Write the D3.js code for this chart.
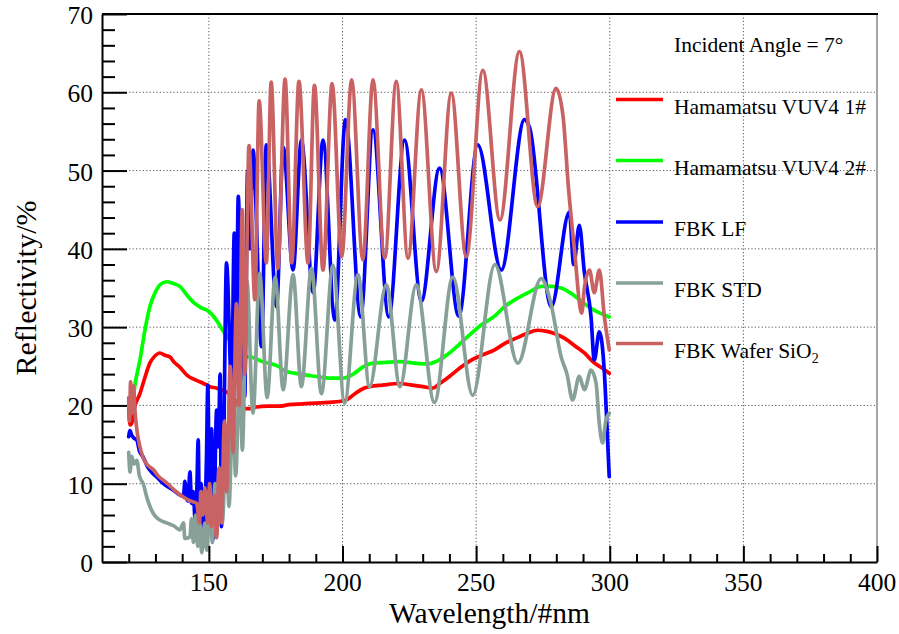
<!DOCTYPE html>
<html>
<head>
<meta charset="utf-8">
<script src="https://cdn.jsdelivr.net/npm/d3@7"></script>
<style>
  html, body { margin: 0; padding: 0; background: #fff; }
  svg text { font-family: "Liberation Serif", "Times New Roman", serif; fill: #000; }
</style>
</head>
<body>
<svg id="chart" width="899" height="634"></svg>
<script>
// ---------- data (wavelength nm, reflectivity %) ----------
const hamamatsu1 = [[120,19.5],[120.5,17.5],[121.1,17.7],[122,19.5],[124.2,21.5],[126,23.5],[127.9,25.4],[129.5,26.2],[131.7,26.7],[133.5,26.4],[135.4,26.2],[137,25.5],[139.1,24.9],[142,23.8],[145.4,23.2],[148,22.8],[150.4,22.4],[153,22.2],[156,21.8],[159.1,21.1],[160.5,20.2],[162,19.4],[163,19.6],[165.3,19.6],[167.8,19.8],[172,19.9],[176.5,19.9],[180,20.1],[185,20.2],[190,20.3],[195,20.4],[198.9,20.5],[202,20.8],[205,21.6],[208,22.2],[210.1,22.4],[215,22.6],[221.4,22.8],[226,22.6],[230.1,22.4],[233.8,22.2],[236,22.7],[240,23.7],[244,24.8],[248.2,25.8],[252,26.4],[256.9,27.1],[260.6,27.9],[265,28.6],[269,29.2],[273,29.6],[276,29.5],[279.3,29.2],[283,28.6],[287,27.6],[290.5,26.7],[294,25.5],[297,24.8],[299.8,24.1]];
const hamamatsu2 = [[120,20.5],[121,19.8],[122.5,23],[124.2,25.8],[126,29.5],[127.9,32.6],[130,34.5],[132,35.5],[134.2,35.8],[136.5,35.6],[139.1,35.2],[142,34],[144.8,33],[147,32.5],[150,32],[153,30.8],[155.5,29.4],[158,28.2],[160,27.2],[162.8,26.2],[165.3,26.2],[170,25.6],[176.5,24.9],[177.8,24.5],[184,24],[190.2,23.7],[195,23.5],[200.2,23.5],[204,24],[208,25],[211.4,25.4],[216,25.5],[221.4,25.6],[227,25.4],[232,25.3],[235,25.6],[240,26.7],[244,27.9],[248.2,29.2],[252,30.3],[256.9,31.4],[260.6,32.6],[265,33.6],[270,34.5],[274.3,35.2],[278,35.2],[281.8,35],[286,34.2],[290.5,33],[295,32],[299.8,31.3]];
const fbkLF = [[120,16],[120.5,16.8],[121,16.3],[122,15.8],[123,15.6],[124,14.2],[125.4,13.4],[127,12.2],[128.5,11.5],[130.4,10.9],[133,10],[136.6,9.2],[139,8.6],[140.5,8.4],[141,10.3],[141.6,8.2],[142.2,7.8],[142.9,11.5],[143.5,7.5],[144.2,9],[144.8,5.5],[145.4,8],[146,15.6],[146.5,4],[147.1,10],[147.9,2],[149.1,13.4],[149.6,22.6],[150.3,5],[151,17],[151.7,3],[152.9,19.4],[153.5,14.7],[154.2,24],[154.7,4.5],[155.4,12],[156.6,38.2],[158.5,22.4],[159.5,42],[160.2,28],[161,46.7],[162,32],[163.4,21.1],[164.5,50],[165.3,40],[166.5,52.6],[169.7,27.5],[171.5,53.3],[175.3,32.6],[177.8,53],[181.5,37.3],[184.6,53.9],[189,34.4],[192.7,53.9],[197.1,30.9],[201.1,56.5],[206.8,31.3],[211.4,55.2],[217.3,31.3],[223.2,53.9],[229.5,33.3],[236.3,50.3],[243.5,31.4],[250.6,53.3],[259.4,37.3],[268.1,56.5],[270,55.5],[278.1,32.6],[284.9,44.7],[286.5,38],[288.6,43],[290.5,37],[293,31.3],[294.2,25.8],[296.1,29.4],[298,24.1],[299,17],[299.8,10.9]];
const fbkSTD = [[120,14],[120.5,11.5],[121.1,13.5],[122,12.5],[123,13],[124,11],[125.4,10],[127,8],[129.2,6.2],[131,5.5],[134.2,5],[137,4.6],[139.1,4.1],[140.5,5],[141,3],[142.9,3.2],[143.5,5.5],[144.2,2.5],[145,6],[145.8,2],[146.6,5],[147.3,1.2],[148.5,5],[149.2,1.5],[150.5,8],[151.3,2.5],[152.3,10],[153,4],[154,12],[155,5],[156.6,16],[157.5,7.1],[159,20],[160,11],[161.6,25],[162.5,14.3],[164.2,36],[166.5,19],[169,36.9],[171.8,21],[174.8,36.4],[177.8,22],[181.5,36.7],[184.6,22.4],[188.4,37.5],[192.1,21.5],[196.4,37.9],[200.8,20.3],[205.8,36.7],[210.1,22.4],[216.4,35.4],[221.5,22.4],[227.6,35.4],[234.4,20.4],[241.3,36.4],[248.7,21.3],[257,38],[265.6,25.4],[274.3,36.2],[278,33],[281.8,26.2],[284,24],[286.1,20.7],[288.6,23.7],[290.5,22],[293,24.5],[294.9,22.8],[296,18],[297.3,15.2],[298.5,18],[299.8,19]];
const fbkWafer = [[120,21],[120.3,18],[120.7,23],[121.2,19],[121.8,22.5],[122.3,19.5],[123,17],[124,15],[125.4,13.3],[127,12.4],[129.2,11.8],[131,11],[134.2,10.1],[137,9.2],[140.4,8.3],[143,7.8],[145.4,7.5],[146.5,5],[147,9],[147.8,6],[148.5,9.5],[149.5,5],[150.3,10],[151,4.5],[152,8.5],[152.9,3.1],[153.8,12],[154.7,5],[155.8,18],[156.6,9],[158,25],[159,14],[160.3,33],[161.3,20],[162.5,45],[163.4,24],[165,53.2],[167.2,33.5],[168.8,58.9],[171.5,38.2],[173.3,61.3],[175.8,37.5],[178.5,61.7],[181,38.2],[183.7,61.4],[187.1,38.2],[189.5,60.9],[192.7,37.3],[196.1,61.1],[199.7,39],[203.4,61.6],[207.6,38.6],[211.4,61.6],[215.8,38.8],[220.1,61.4],[224.5,38.8],[229.5,60.3],[235.1,37.1],[240.7,59.9],[246.3,39],[252.5,62.8],[258.9,43.7],[266.2,65.2],[273,45.4],[279.9,60.5],[282.5,57],[284.5,48],[286.8,39.8],[289.5,31.8],[290.5,35],[292.4,37.3],[294.2,34.4],[296.1,37.3],[298,31.3],[299.8,27.1]];

const seriesNames = ["Hamamatsu VUV4 1#", "Hamamatsu VUV4 2#", "FBK LF", "FBK STD", "FBK Wafer SiO"];
const seriesColors = ["#ff0000", "#00ff00", "#0000ff", "#87a098", "#c96262"];
const seriesData = [hamamatsu1, hamamatsu2, fbkLF, fbkSTD, fbkWafer];
const xTicks = [150, 200, 250, 300, 350, 400];
const yTicks = [0, 10, 20, 30, 40, 50, 60, 70];
const xDomain = [110, 400];
const yDomain = [0, 70];
const annotation = "Incident Angle = 7°";
const xTitle = "Wavelength/#nm";
const yTitle = "Reflectivity/%";

// ---------- layout ----------
const L = 102, R = 877, T = 14, B = 562;
const svg = d3.select("#chart");
const x = d3.scaleLinear().domain(xDomain).range([L, R]);
const y = d3.scaleLinear().domain(yDomain).range([B, T]);

// grid
const grid = svg.append("g").attr("stroke", "#555").attr("stroke-width", 1).attr("stroke-dasharray", "1.2,2.2");
xTicks.filter(v => v < xDomain[1]).forEach(v => {
  grid.append("line").attr("x1", x(v)).attr("x2", x(v)).attr("y1", T).attr("y2", B);
});
yTicks.filter(v => v > yDomain[0] && v < yDomain[1]).forEach(v => {
  grid.append("line").attr("x1", L).attr("x2", R).attr("y1", y(v)).attr("y2", y(v));
});

// clip
svg.append("clipPath").attr("id", "clip").append("rect").attr("x", L).attr("y", T).attr("width", R - L).attr("height", B - T);

// lines
const line = d3.line().x(d => x(d[0])).y(d => y(d[1])).curve(d3.curveMonotoneX);
const plot = svg.append("g").attr("clip-path", "url(#clip)");
seriesData.forEach((data, i) => {
  plot.append("path").datum(data).attr("d", line)
    .attr("fill", "none").attr("stroke", seriesColors[i]).attr("stroke-width", 3.7)
    .attr("stroke-linejoin", "round").attr("stroke-linecap", "round");
});

// frame
svg.append("line").attr("x1", R).attr("x2", R).attr("y1", T).attr("y2", B).attr("stroke", "#888").attr("stroke-width", 1.5);
svg.append("line").attr("x1", L).attr("x2", R + 1).attr("y1", T).attr("y2", T).attr("stroke", "#000").attr("stroke-width", 2);

// x axis
const xAxis = d3.axisBottom(x).tickValues(d3.range(120, 401, 10)).tickSize(0).tickFormat("");
const gx = svg.append("g").attr("transform", `translate(0,${B})`).call(xAxis);
gx.select(".domain").attr("stroke", "#000").attr("stroke-width", 2);
gx.selectAll(".tick line").remove();
gx.selectAll(".tick").append("line")
  .attr("y1", 0).attr("y2", d => (d % 50 === 0 ? -16 : -8))
  .attr("stroke", "#000").attr("stroke-width", 2);
svg.append("g").selectAll("text").data(xTicks).join("text")
  .attr("x", d => x(d)).attr("y", 591).attr("text-anchor", "middle")
  .attr("font-size", 25.5).text(d => d);

// y axis
const yAxis = d3.axisLeft(y).tickValues(d3.range(0, 71, 2)).tickSize(0).tickFormat("");
const gy = svg.append("g").attr("transform", `translate(${L},0)`).call(yAxis);
gy.select(".domain").attr("stroke", "#000").attr("stroke-width", 2);
gy.selectAll(".tick line").remove();
gy.selectAll(".tick").append("line")
  .attr("x1", 0).attr("x2", d => (d % 10 === 0 ? 25 : 13))
  .attr("stroke", "#000").attr("stroke-width", 2);
svg.append("g").selectAll("text").data(yTicks).join("text")
  .attr("x", 93).attr("y", d => y(d) + 10).attr("text-anchor", "end")
  .attr("font-size", 25.5).text(d => d);

// axis titles
svg.append("text").attr("x", (L + R) / 2).attr("y", 623).attr("text-anchor", "middle")
  .attr("font-size", 29.5).text(xTitle);
svg.append("text").attr("transform", `translate(36,${(T + B) / 2}) rotate(-90)`)
  .attr("text-anchor", "middle").attr("font-size", 30).text(yTitle);

// legend
svg.append("text").attr("x", 674).attr("y", 52).attr("font-size", 21.5).text(annotation);
const legY = [99.5, 160.5, 222, 283, 343.5];
seriesNames.forEach((name, i) => {
  svg.append("line").attr("x1", 616).attr("x2", 663).attr("y1", legY[i]).attr("y2", legY[i])
    .attr("stroke", seriesColors[i]).attr("stroke-width", 3.5);
  const t = svg.append("text").attr("x", 674).attr("y", legY[i] + 14).attr("font-size", 21.5).text(name);
  if (i === 4) t.append("tspan").attr("font-size", 14).attr("dy", 5).text("2");
});
</script>
</body>
</html>
